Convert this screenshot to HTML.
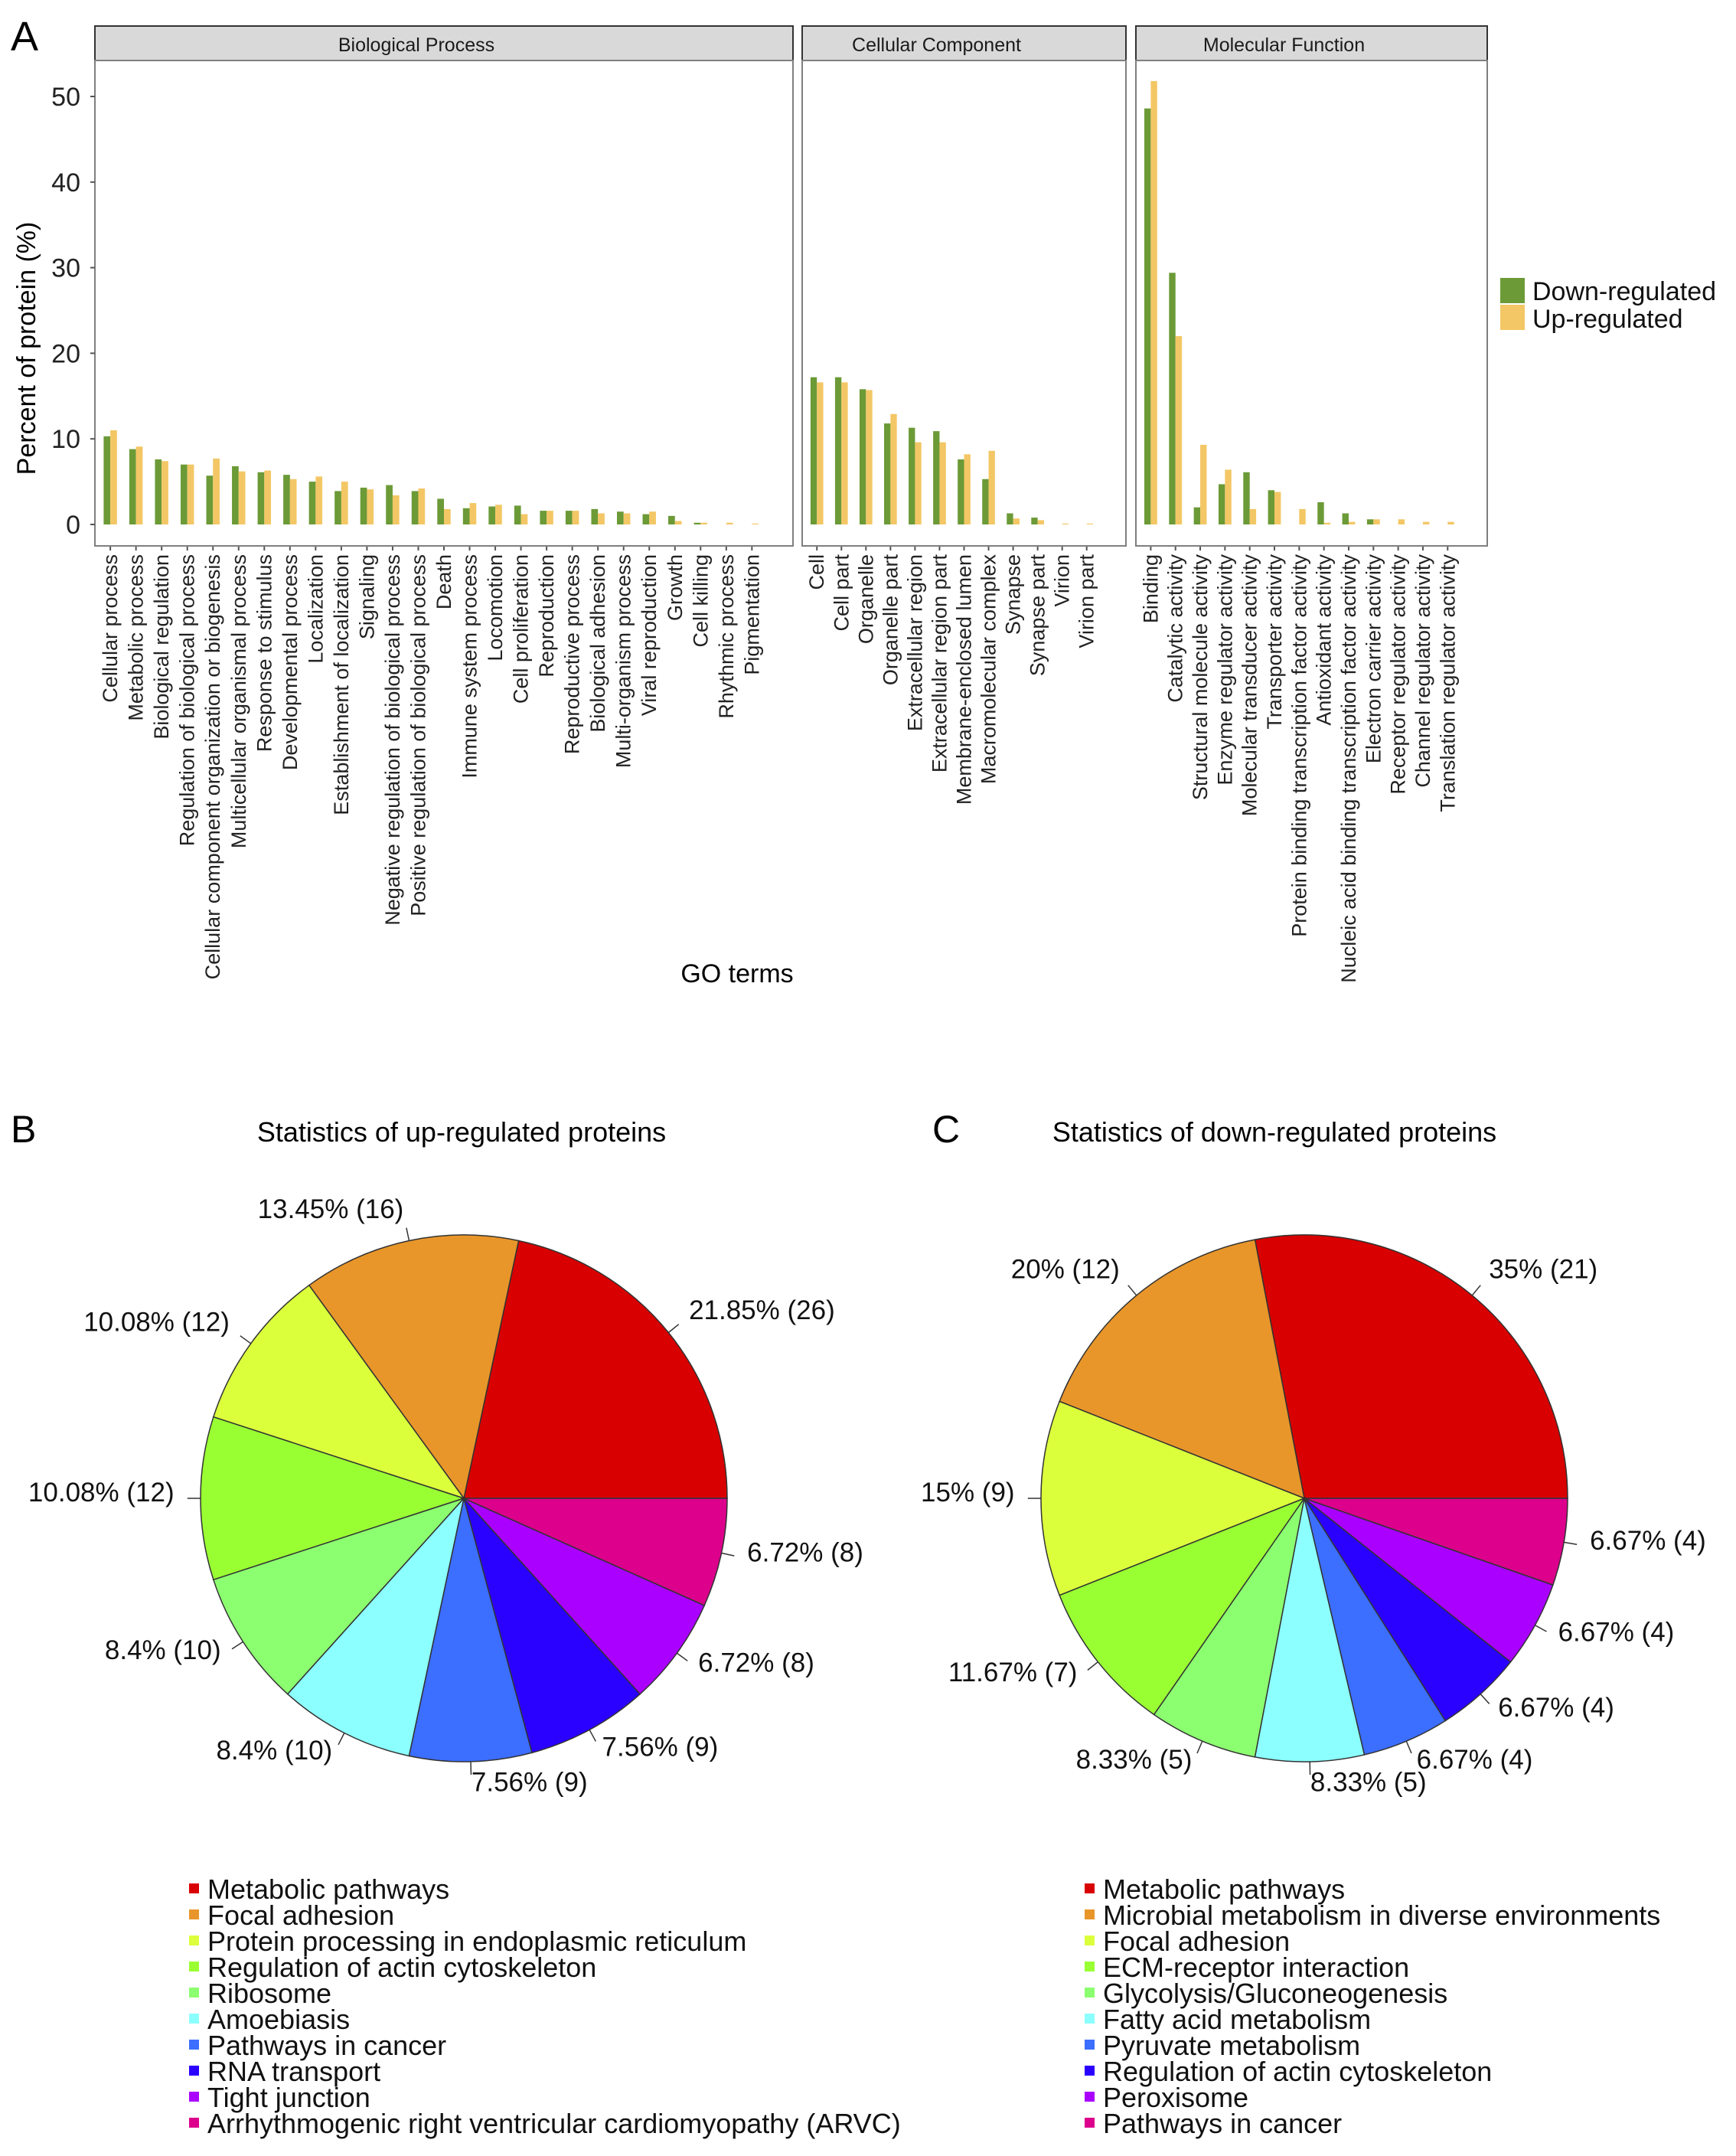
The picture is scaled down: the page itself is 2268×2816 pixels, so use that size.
<!DOCTYPE html>
<html><head><meta charset="utf-8">
<style>
html,body{margin:0;padding:0;background:#fff;}
svg{display:block;font-family:"Liberation Sans",Arial,sans-serif;}
</style></head>
<body>
<svg id="fig" xmlns="http://www.w3.org/2000/svg" width="2268" height="2816" viewBox="0 0 2268 2816">
<rect x="0" y="0" width="2268" height="2816" fill="#fff"/>
<text x="14" y="66" font-size="54" fill="#000">A</text>
<text x="14" y="1492" font-size="50" fill="#000">B</text>
<text x="1218" y="1492" font-size="50" fill="#000">C</text>
<g id="bars"></g>
<g id="pies"></g>
</svg>
<script>
// ---------- Bar chart data ----------
const bpCategories = ["Cellular process","Metabolic process","Biological regulation","Regulation of biological process","Cellular component organization or biogenesis","Multicellular organismal process","Response to stimulus","Developmental process","Localization","Establishment of localization","Signaling","Negative regulation of biological process","Positive regulation of biological process","Death","Immune system process","Locomotion","Cell proliferation","Reproduction","Reproductive process","Biological adhesion","Multi-organism process","Viral reproduction","Growth","Cell killing","Rhythmic process","Pigmentation"];
const bpDown = [10.3,8.8,7.6,7.0,5.7,6.8,6.1,5.8,5.0,3.9,4.3,4.6,3.9,3.0,1.9,2.1,2.2,1.6,1.6,1.8,1.5,1.2,1.0,0.2,0,0];
const bpUp = [11.0,9.1,7.4,7.0,7.7,6.2,6.3,5.3,5.6,5.0,4.1,3.4,4.2,1.8,2.5,2.3,1.2,1.6,1.6,1.3,1.3,1.5,0.4,0.2,0.2,0.1];
const ccCategories = ["Cell","Cell part","Organelle","Organelle part","Extracellular region","Extracellular region part","Membrane-enclosed lumen","Macromolecular complex","Synapse","Synapse part","Virion","Virion part"];
const ccDown = [17.2,17.2,15.8,11.8,11.3,10.9,7.6,5.3,1.3,0.8,0,0];
const ccUp = [16.6,16.6,15.7,12.9,9.6,9.6,8.2,8.6,0.7,0.5,0.1,0.1];
const mfCategories = ["Binding","Catalytic activity","Structural molecule activity","Enzyme regulator activity","Molecular transducer activity","Transporter activity","Protein binding transcription factor activity","Antioxidant activity","Nucleic acid binding transcription factor activity","Electron carrier activity","Receptor regulator activity","Channel regulator activity","Translation regulator activity"];
const mfDown = [48.6,29.4,2.0,4.7,6.1,4.0,0,2.6,1.3,0.6,0,0,0];
const mfUp = [51.8,22.0,9.3,6.4,1.8,3.8,1.8,0.2,0.3,0.6,0.6,0.3,0.3];
const yTicks = [0,10,20,30,40,50];
const facetNames = ["Biological Process","Cellular Component","Molecular Function"];

// ---------- Pie data ----------
const upLabels = ["Metabolic pathways","Focal adhesion","Protein processing in endoplasmic reticulum","Regulation of actin cytoskeleton","Ribosome","Amoebiasis","Pathways in cancer","RNA transport","Tight junction","Arrhythmogenic right ventricular cardiomyopathy (ARVC)"];
const upCounts = [26,16,12,12,10,10,9,9,8,8];
const upText = ["21.85% (26)","13.45% (16)","10.08% (12)","10.08% (12)","8.4% (10)","8.4% (10)","7.56% (9)","7.56% (9)","6.72% (8)","6.72% (8)"];
const downLabels = ["Metabolic pathways","Microbial metabolism in diverse environments","Focal adhesion","ECM-receptor interaction","Glycolysis/Gluconeogenesis","Fatty acid metabolism","Pyruvate metabolism","Regulation of actin cytoskeleton","Peroxisome","Pathways in cancer"];
const downCounts = [21,12,9,7,5,5,4,4,4,4];
const downText = ["35% (21)","20% (12)","15% (9)","11.67% (7)","8.33% (5)","8.33% (5)","6.67% (4)","6.67% (4)","6.67% (4)","6.67% (4)"];

const NS = "http://www.w3.org/2000/svg";
function mk(tag, attrs, parent){const e=document.createElementNS(NS,tag);for(const k in attrs)e.setAttribute(k,attrs[k]);parent.appendChild(e);return e;}

const GREEN="#6b9a37", YELLOW="#f3c765";
const barsG=document.getElementById('bars');
const PT=79, PB=713, ST=34;
const Y0=685, PXU=11.18;
function yScale(v){return Y0 - v*PXU;}
const panels=[
 {L:124,R:1036,cats:bpCategories,down:bpDown,up:bpUp},
 {L:1048,R:1471,cats:ccCategories,down:ccDown,up:ccUp},
 {L:1484,R:1943,cats:mfCategories,down:mfDown,up:mfUp}
];
panels.forEach((p,pi)=>{
  const n=p.cats.length, unit=(p.R-p.L)/(n+1.2);
  const xc=i=>p.L+(i+0.6)*unit;
  const strip=mk('rect',{x:p.L,y:ST,width:p.R-p.L,height:PT-ST,fill:"#d9d9d9",stroke:"#333",'stroke-width':2},barsG);
  
  
  const st=mk('text',{x:(p.L+p.R)/2-36,y:67,'font-size':25,'text-anchor':'middle',fill:"#1a1a1a"},barsG);
  st.textContent=facetNames[pi];
  
  
  const bw=unit*0.26;
  p.cats.forEach((c,i)=>{
    const x=xc(i);
    const gd=mk('rect',{x:x-bw,y:yScale(p.down[i]),width:bw,height:Y0-yScale(p.down[i]),fill:GREEN},barsG);
    
    
    const gu=mk('rect',{x:x,y:yScale(p.up[i]),width:bw,height:Y0-yScale(p.up[i]),fill:YELLOW},barsG);
    
    
    mk('line',{x1:x,x2:x,y1:PB,y2:PB+6,stroke:"#555",'stroke-width':2},barsG);
    const t=mk('text',{x:0,y:0,'font-size':27,'text-anchor':'end',fill:"#222",transform:`translate(${x+9},${PB+11}) rotate(-90)`},barsG);
    t.textContent=c;
    
    
  });
  const fr=mk('rect',{x:p.L,y:PT,width:p.R-p.L,height:PB-PT,fill:"none",stroke:"#7f7f7f",'stroke-width':2},barsG);
  
  
});
yTicks.forEach(v=>{
  const y=yScale(v);
  mk('line',{x1:118,x2:124,y1:y,y2:y,stroke:"#555",'stroke-width':2},barsG);
  const t=mk('text',{x:105,y:y+12,'font-size':34,'text-anchor':'end',fill:"#222"},barsG);
  t.textContent=v;
  
  
});
{
  const t=mk('text',{x:0,y:0,'font-size':34,'text-anchor':'middle',fill:"#000",transform:"translate(46,455) rotate(-90)"},barsG);
  t.textContent="Percent of protein (%)";
  
  
  const g=mk('text',{x:963,y:1283,'font-size':34,'text-anchor':'middle',fill:"#000"},barsG);
  g.textContent="GO terms";
  
  
  const l1=mk('rect',{x:1960,y:363,width:32,height:33,fill:GREEN},barsG);
  
  
  const l2=mk('rect',{x:1960,y:398,width:32,height:33,fill:YELLOW},barsG);
  
  
  const lt1=mk('text',{x:2002,y:392,'font-size':34,fill:"#111"},barsG);
  lt1.textContent="Down-regulated";
  
  
  const lt2=mk('text',{x:2002,y:428,'font-size':34,fill:"#111"},barsG);
  lt2.textContent="Up-regulated";
  
  
}

// ---------- Pies ----------
const pieColors=["#d80000","#e8962a","#dcff3c","#99ff33","#8cff70","#8cffff","#3c6eff","#2a00ff","#aa00ff","#dc008c"];
const piesG=document.getElementById('pies');
function drawPie(cx,cy,r,counts,texts,labels,title,titleX,legX){
  const tt=mk('text',{x:titleX,y:1491,'font-size':36,'text-anchor':'middle',fill:"#000"},piesG);
  tt.textContent=title;
  
  
  const total=counts.reduce((a,b)=>a+b,0);
  let a0=0;
  counts.forEach((c,i)=>{
    const a1=a0+c/total*2*Math.PI;
    const x0=cx+r*Math.cos(a0), y0=cy-r*Math.sin(a0);
    const x1=cx+r*Math.cos(a1), y1=cy-r*Math.sin(a1);
    const large=(a1-a0)>Math.PI?1:0;
    const s=mk('path',{d:`M${cx},${cy} L${x0},${y0} A${r},${r} 0 ${large} 0 ${x1},${y1} Z`,fill:pieColors[i],stroke:"#333",'stroke-width':1.5},piesG);
    
    
    const m=(a0+a1)/2, cs=Math.cos(m), sn=Math.sin(m);
    mk('line',{x1:cx+r*cs,y1:cy-r*sn,x2:cx+1.05*r*cs,y2:cy-1.05*r*sn,stroke:"#333",'stroke-width':1.5},piesG);
    const lt=mk('text',{x:cx+1.1*r*cs,y:cy-1.1*r*sn+4,'font-size':35,'text-anchor':cs>0?'start':'end',fill:"#111"},piesG);
    lt.textContent=texts[i];
    
    
    a0=a1;
  });
  labels.forEach((l,i)=>{
    const y=2468+i*34;
    const sq=mk('rect',{x:legX,y:y-8,width:13,height:13,fill:pieColors[i]},piesG);
    
    
    const t=mk('text',{x:legX+24,y:y+12,'font-size':36,fill:"#111"},piesG);
    t.textContent=l;
    
    
  });
}
drawPie(606,1957,344,upCounts,upText,upLabels,"Statistics of up-regulated proteins",603,247);
drawPie(1704,1957,344,downCounts,downText,downLabels,"Statistics of down-regulated proteins",1665,1417);
</script>
</body></html>
